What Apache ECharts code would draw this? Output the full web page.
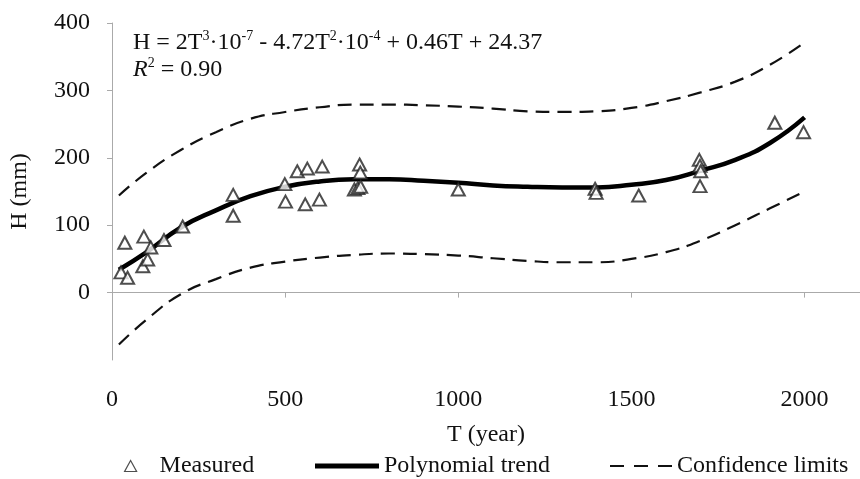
<!DOCTYPE html>
<html>
<head>
<meta charset="utf-8">
<script src="https://cdn.jsdelivr.net/npm/echarts@6/dist/echarts.min.js"></script>
<style>
  html, body { margin: 0; padding: 0; background: #fff; }
  #chart { width: 860px; height: 479px; }
</style>
</head>
<body>
<div id="chart"></div>
<script>
// measured points (T year, H mm)
const measuredT = [26, 37, 45, 89, 92, 103, 112, 150, 204, 350, 350, 499, 501, 535, 558, 564, 599, 607,
  700, 710, 718, 715, 717, 1000, 1395, 1398, 1521, 1696, 1698, 1700, 1698, 1914, 1997];
const measuredH = [30, 74, 22, 39, 83, 49, 67, 78, 98, 145, 114, 161, 135, 180, 131, 184, 138, 187,
  153, 155, 157, 190, 178, 153, 154, 148, 144, 197, 188, 180, 158, 252, 238];

// curves
const curveT = [20, 100, 200, 300, 400, 500, 600, 700, 800, 900, 1000, 1100, 1200, 1300, 1400, 1500, 1600, 1700, 1800, 1900, 2000];
const trendH = [34, 60, 97, 122, 143, 157, 165, 168, 168, 166, 163, 159, 157, 156, 156, 160, 167, 181, 197, 222, 260];
const upperH = [144, 178, 212, 238, 258, 268, 275, 279, 279, 278, 276, 273, 269, 268, 269, 274, 284, 297, 313, 338, 371];
const lowerH = [-77, -40, -2, 20, 37, 46, 52, 56, 58, 57, 55, 51, 47, 45, 45, 50, 60, 77, 100, 125, 150];

const font = 'Liberation Serif';
const axisGrey = '#aaa';
const fs = 24;

const pairs = (xs, ys) => xs.map((x, i) => [x, ys[i]]);

const chart = echarts.init(document.getElementById('chart'));

const legendText = { fontSize: fs, fontFamily: font, color: '#111' };

chart.setOption({
  animation: false,
  textStyle: { fontFamily: font, color: '#111' },
  grid: { left: 106, right: 0, top: 23, bottom: 119 },
  xAxis: {
    type: 'value',
    min: 0,
    max: 2160,
    interval: 500,
    name: 'T (year)',
    nameLocation: 'middle',
    nameGap: 63,
    nameTextStyle: { fontSize: fs, fontFamily: font, color: '#111' },
    axisLine: { lineStyle: { color: axisGrey } },
    axisTick: { length: 5, lineStyle: { color: axisGrey } },
    axisLabel: { fontSize: fs, margin: 28, color: '#111', showMaxLabel: false, formatter: v => String(v) },
    splitLine: { show: false }
  },
  yAxis: {
    type: 'value',
    min: -100,
    max: 400,
    interval: 100,
    name: 'H (mm)',
    nameLocation: 'middle',
    nameGap: 80,
    nameTextStyle: { fontSize: fs, fontFamily: font, color: '#111' },
    axisLine: { show: true, lineStyle: { color: axisGrey } },
    axisTick: { show: true, length: 5, lineStyle: { color: axisGrey } },
    axisLabel: { fontSize: fs, margin: 22, color: '#111', showMinLabel: false, formatter: v => String(v) },
    splitLine: { show: false }
  },
  legend: [
    {
      data: [{ name: 'Measured', icon: 'path://M6,0L12,11L0,11Z' }],
      left: 119, top: 449, itemWidth: 12, itemHeight: 11,
      itemStyle: { color: '#fff', borderColor: '#222', borderWidth: 1.2 },
      textStyle: Object.assign({ padding: [0, 0, 0, 18] }, legendText)
    },
    {
      data: [{ name: 'Polynomial trend', icon: 'rect' }],
      left: 310, top: 449, itemWidth: 64, itemHeight: 5,
      itemStyle: { color: '#000', borderWidth: 0 },
      textStyle: legendText
    },
    {
      data: [{ name: 'Confidence limits', icon: 'path://M0,0h14v2h-14z M24,0h14v2h-14z M48,0h14v2h-14z' }],
      left: 605, top: 449, itemWidth: 62, itemHeight: 2,
      itemStyle: { color: '#111', borderWidth: 0 },
      textStyle: legendText
    }
  ],
  graphic: [
    {
      type: 'text', left: 133, top: 29,
      style: {
        text: '{b|H = 2T}{s|3}{b|·10}{s|-7}{b| - 4.72T}{s|2}{b|·10}{s|-4}{b| + 0.46T + 24.37}',
        rich: {
          b: { fontSize: fs, fontFamily: font, fill: '#111', lineHeight: 26, verticalAlign: 'bottom' },
          s: { fontSize: 14, fontFamily: font, fill: '#111', lineHeight: 26, verticalAlign: 'top' }
        }
      }
    },
    {
      type: 'text', left: 133, top: 56,
      style: {
        text: '{i|R}{s|2}{b| = 0.90}',
        rich: {
          i: { fontSize: fs, fontFamily: font, fontStyle: 'italic', fill: '#111', lineHeight: 26, verticalAlign: 'bottom' },
          b: { fontSize: fs, fontFamily: font, fill: '#111', lineHeight: 26, verticalAlign: 'bottom' },
          s: { fontSize: 14, fontFamily: font, fill: '#111', lineHeight: 26, verticalAlign: 'top' }
        }
      }
    }
  ],
  series: [
    {
      name: 'Confidence limits',
      type: 'line',
      data: pairs(curveT, upperH),
      smooth: true,
      showSymbol: false,
      symbol: 'none',
      lineStyle: { color: '#111', width: 2.2, type: [14, 8] },
      itemStyle: { color: '#111' }
    },
    {
      name: 'Confidence limits',
      type: 'line',
      data: pairs(curveT, lowerH),
      smooth: true,
      showSymbol: false,
      symbol: 'none',
      lineStyle: { color: '#111', width: 2.2, type: [14, 8] },
      itemStyle: { color: '#111' }
    },
    {
      name: 'Polynomial trend',
      type: 'line',
      data: pairs(curveT, trendH),
      smooth: true,
      showSymbol: false,
      symbol: 'none',
      lineStyle: { color: '#000', width: 4.5 },
      itemStyle: { color: '#000' }
    },
    {
      name: 'Measured',
      type: 'scatter',
      data: pairs(measuredT, measuredH),
      symbol: 'emptyTriangle',
      symbolSize: [13, 12],
      itemStyle: { color: '#222', borderColor: '#222', borderWidth: 1.3 },
      z: 5
    }
  ]
});
</script>
</body>
</html>
